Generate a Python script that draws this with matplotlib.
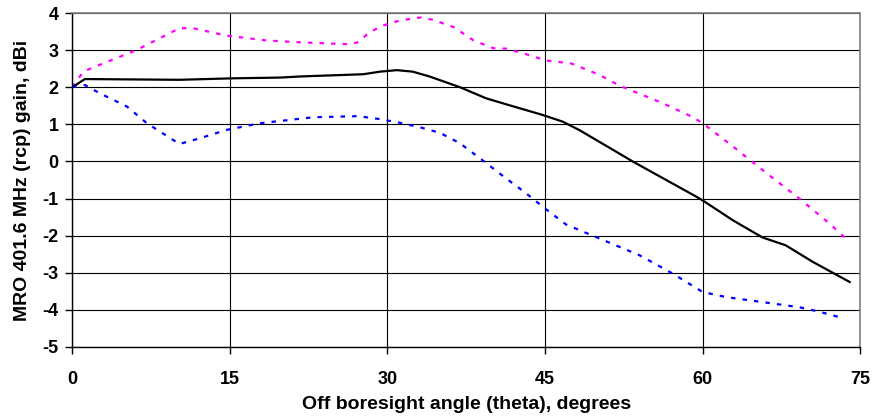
import matplotlib.pyplot as plt

plt.rcParams['font.family'] = ['Liberation Sans', 'DejaVu Sans']
plt.rcParams['font.weight'] = 'bold'
plt.rcParams['axes.unicode_minus'] = False

# Off boresight angle (deg) and gain (dBi) for each curve
theta_max = [0, 1.0, 1.7, 6.1, 10.2, 11.5, 14.7, 18.5, 21.7, 26.1, 27.1, 28.0, 29.3,
             31.2, 33.1, 34.3, 36.3, 38.2, 40.1, 41.3, 43.2, 45.1, 46.6, 47.5,
             50.2, 52.1, 54.3, 56.2, 59.1, 60.0, 62.9, 66.1, 69.2, 72.1, 73.9]
gain_max = [2.0, 2.40, 2.50, 3.00, 3.59, 3.59, 3.39, 3.26, 3.21, 3.16, 3.20, 3.41, 3.64,
            3.80, 3.88, 3.82, 3.62, 3.26, 3.05, 3.04, 2.89, 2.72, 2.67, 2.64,
            2.33, 2.04, 1.79, 1.57, 1.19, 1.03, 0.40, -0.32, -1.00, -1.68, -2.15]

theta_mean = [0, 1.2, 10.2, 15.3, 19.8, 21.7, 27.7, 29.3, 30.9, 32.4, 34.0, 36.9,
              39.4, 41.3, 44.8, 46.7, 48.3, 53.4, 59.4, 60.0, 62.9, 65.7, 67.9,
              70.5, 74.0]
gain_mean = [2.0, 2.22, 2.20, 2.24, 2.26, 2.29, 2.35, 2.42, 2.46, 2.42, 2.29, 2.00,
             1.70, 1.54, 1.25, 1.07, 0.84, -0.01, -0.95, -1.05, -1.59, -2.05, -2.26,
             -2.71, -3.25]

theta_min = [0, 1.2, 2.6, 5.2, 7.1, 10.2, 12.1, 14.7, 17.9, 20.1, 22.9, 27.2, 29.3,
             31.2, 33.1, 35.0, 36.9, 39.1, 41.3, 43.2, 45.0, 47.0, 50.2, 54.0,
             57.2, 60.0, 62.3, 65.4, 69.2, 71.1, 73.3]
gain_min = [2.0, 2.06, 1.84, 1.48, 1.03, 0.47, 0.62, 0.85, 1.03, 1.10, 1.19, 1.22, 1.14,
            1.04, 0.92, 0.77, 0.49, 0.02, -0.46, -0.86, -1.27, -1.70, -2.08, -2.53,
            -3.03, -3.52, -3.66, -3.78, -3.93, -4.05, -4.22]

x_ticks = [0, 15, 30, 45, 60, 75]
y_ticks = [-5, -4, -3, -2, -1, 0, 1, 2, 3, 4]

fig = plt.figure(figsize=(8.75, 4.2), dpi=100)
ax = fig.add_axes([0.0826, 0.174, 0.9005, 0.795])

ax.plot(theta_max, gain_max, color='#ff00ff', lw=1.6, ls=(0, (2, 3.2)))
ax.plot(theta_mean, gain_mean, color='black', lw=1.6)
ax.plot(theta_min, gain_min, color='#0000ff', lw=1.6, ls=(0, (2, 3.2)))

ax.set_xlim(0, 75)
ax.set_ylim(-5, 4)
ax.set_xticks(x_ticks)
ax.set_yticks(y_ticks)
ax.grid(True, color='black', lw=0.8)
ax.set_axisbelow(True)

for side in ['top', 'right']:
    ax.spines[side].set_color('#808080')
    ax.spines[side].set_linewidth(1.2)
for side in ['left', 'bottom']:
    ax.spines[side].set_color('black')
    ax.spines[side].set_linewidth(1.0)

ax.tick_params(axis='x', direction='out', length=5, width=1, pad=12, labelsize=13)
ax.tick_params(axis='y', direction='out', length=5, width=1, pad=5, labelsize=13)

ax.set_xlabel('Off boresight angle (theta), degrees', fontsize=14, fontweight='bold', labelpad=6)
ax.set_ylabel('MRO 401.6 MHz (rcp) gain, dBi', fontsize=14, fontweight='bold', labelpad=8)

fig.savefig('out.png', dpi=100)
